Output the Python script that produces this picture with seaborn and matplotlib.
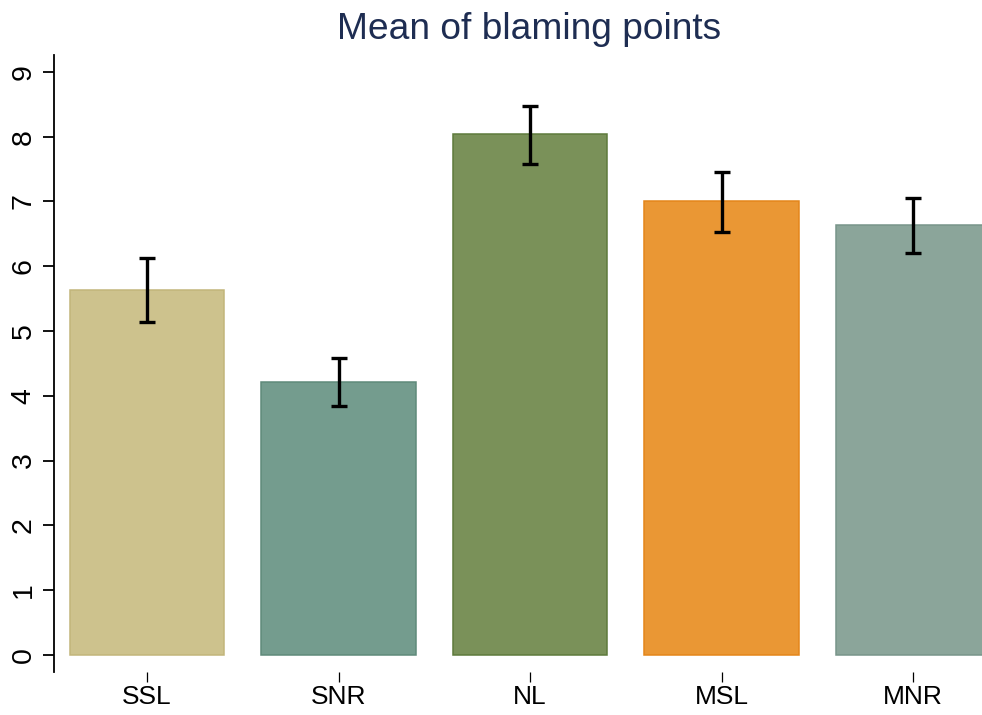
import matplotlib
matplotlib.use("Agg")
import matplotlib.pyplot as plt
import seaborn as sns
import pandas as pd
import numpy as np

# Mean blame score per condition with 95% confidence bounds
conditions = ["SSL", "SNR", "NL", "MSL", "MNR"]
mean_points = [5.64, 4.21, 8.04, 7.00, 6.63]
ci_lower = [5.14, 3.84, 7.57, 6.53, 6.21]
ci_upper = [6.12, 4.58, 8.48, 7.46, 7.05]

fill_colors = ["#cdc28d", "#749c8e", "#7a9159", "#ea9734", "#8ba59a"]
edge_colors = ["#c2b57a", "#5f8a7a", "#5e7a3c", "#e4861a", "#78958a"]

sns.set_theme(style="white")
plt.rcParams["font.family"] = ["Liberation Sans", "DejaVu Sans"]

df = pd.DataFrame({"condition": conditions, "points": mean_points})

fig = plt.figure(figsize=(9.82, 7.15), dpi=100)
ax = fig.add_axes([54 / 982, 1 - 671.7 / 715, 1 - 54 / 982, (671.7 - 55) / 715])

sns.barplot(data=df, x="condition", y="points", hue="condition",
            palette=fill_colors, order=conditions, hue_order=conditions,
            width=0.805, errorbar=None, legend=False, saturation=1, ax=ax)

for patch, ec in zip(ax.patches, edge_colors):
    patch.set_edgecolor(ec)
    patch.set_linewidth(1.1)

pos = np.arange(len(conditions))
center = (np.array(ci_lower) + np.array(ci_upper)) / 2
half = (np.array(ci_upper) - np.array(ci_lower)) / 2
ax.errorbar(pos, center, yerr=half, fmt="none", ecolor="black",
            elinewidth=2.4, capsize=5.5, capthick=2.4, zorder=5)

ax.set_xlim(-0.486, 4.36)
ax.set_ylim(-0.26, 9.26)
ax.set_yticks(range(10))
ax.set_xlabel("")
ax.set_ylabel("")

for side in ["top", "right", "bottom"]:
    ax.spines[side].set_visible(False)
ax.spines["left"].set_linewidth(1.3)
ax.spines["left"].set_color("black")

ax.tick_params(axis="y", which="major", left=True, length=8, width=1.3,
               color="black", pad=4.5, labelsize=20.5, labelcolor="black")
ax.tick_params(axis="x", which="major", bottom=True, length=7.5, width=0.9,
               color="black", pad=2, labelsize=19, labelcolor="black")
for lbl in ax.get_yticklabels():
    lbl.set_rotation(90)
    lbl.set_va("center")

fig.text(529 / 982, 1 - 39 / 715, "Mean of blaming points", ha="center",
         va="baseline", fontsize=26.7, color="#1e2d52")

fig.savefig("out.png", dpi=100)
